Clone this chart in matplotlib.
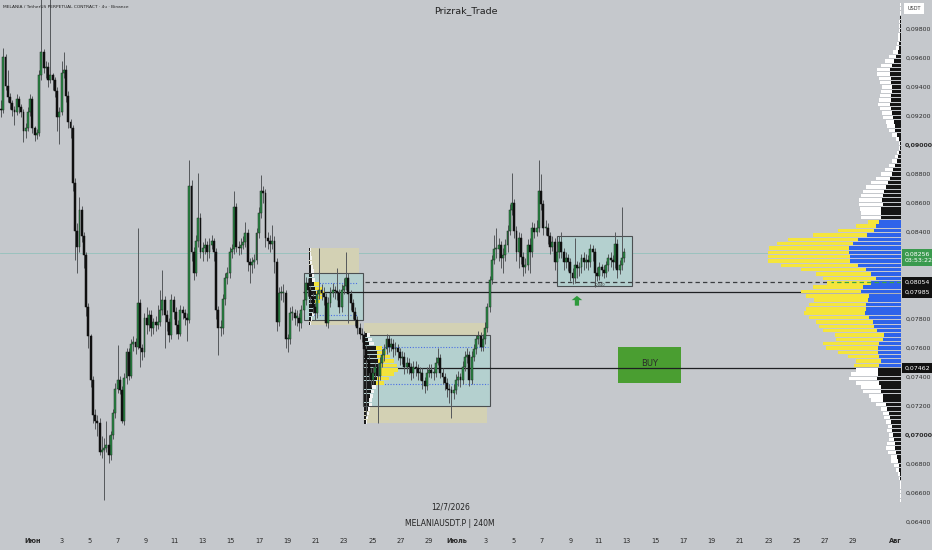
import matplotlib
matplotlib.use("Agg")
import matplotlib.pyplot as plt
import matplotlib.transforms as mtransforms
import numpy as np
from matplotlib.patches import Rectangle

# ---- 4h candles, MELANIAUSDT.P (prices in USDT) ----
first_open = 0.0925
closes = [
    .0924, .0961, .0941, .0933, .0929, .0924, .0923, .0932, .0926, .0923,
    .0910, .0912, .0923, .0932, .0912, .0907, .0908, .0948, .0964, .0953,
    .0954, .0945, .0948, .0945, .0937, .0919, .0923, .0950, .0952, .0934,
    .0916, .0912, .0874, .0841, .0830, .0855, .0837, .0824, .0788, .0768,
    .0738, .0714, .0710, .0708, .0688, .0690, .0691, .0693, .0686, .0700,
    .0715, .0732, .0738, .0731, .0710, .0739, .0757, .0741, .0763, .0764,
    .0761, .0791, .0760, .0757, .0781, .0776, .0783, .0774, .0778, .0776,
    .0778, .0786, .0793, .0783, .0778, .0769, .0793, .0785, .0776, .0770,
    .0786, .0784, .0781, .0779, .0872, .0826, .0812, .0834, .0850, .0826,
    .0829, .0831, .0826, .0831, .0834, .0826, .0786, .0774, .0774, .0794,
    .0808, .0812, .0826, .0828, .0857, .0830, .0829, .0831, .0833, .0839,
    .0819, .0817, .0819, .0821, .0839, .0853, .0868, .0867, .0836, .0834,
    .0832, .0834, .0819, .0778, .0798, .0798, .0798, .0766, .0766, .0784,
    .0784, .0781, .0781, .0777, .0786, .0793, .0805, .0800, .0795, .0788,
    .0784, .0797, .0800, .0798, .0795, .0777, .0791, .0798, .0800, .0799,
    .0798, .0788, .0800, .0803, .0808, .0797, .0791, .0785, .0779, .0774,
    .0770, .0769, .0759, .0752, .0743, .0738, .0743, .0747, .0741, .0750,
    .0755, .0759, .0766, .0761, .0763, .0759, .0760, .0757, .0753, .0754,
    .0747, .0750, .0747, .0743, .0747, .0746, .0743, .0743, .0737, .0734,
    .0743, .0745, .0743, .0743, .0750, .0753, .0743, .0740, .0736, .0732,
    .0731, .0729, .0731, .0738, .0740, .0738, .0747, .0754, .0755, .0738,
    .0754, .0759, .0766, .0768, .0761, .0766, .0774, .0788, .0807, .0821,
    .0828, .0828, .0831, .0822, .0824, .0831, .0841, .0855, .0860, .0841,
    .0826, .0836, .0823, .0816, .0817, .0831, .0826, .0843, .0840, .0843,
    .0868, .0859, .0843, .0843, .0837, .0830, .0833, .0819, .0826, .0833,
    .0826, .0819, .0822, .0819, .0812, .0808, .0817, .0815, .0816, .0822,
    .0819, .0821, .0819, .0828, .0826, .0812, .0810, .0816, .0814, .0812,
    .0817, .0822, .0821, .0819, .0832, .0814, .0817, .0822, .0826,
]
highs = [
    .0931, .0967, .0963, .0952, .0936, .0931, .0927, .0935, .0934, .0928,
    .0925, .0915, .0926, .0935, .0934, .0913, .0911, .0952, .1005, .0966,
    .0958, .0957, .1005, .0950, .0947, .0940, .0926, .0958, .0964, .0955,
    .0937, .0918, .0914, .0877, .0846, .0864, .0858, .0840, .0826, .0791,
    .0770, .0741, .0718, .0714, .0712, .0699, .0698, .0710, .0700, .0703,
    .0718, .0736, .0762, .0741, .0734, .0743, .0760, .0760, .0766, .0768,
    .0767, .0843, .0794, .0763, .0784, .0788, .0786, .0786, .0781, .0782,
    .0790, .0800, .0814, .0796, .0786, .0781, .0797, .0796, .0788, .0779,
    .0790, .0789, .0787, .0784, .0890, .0876, .0830, .0838, .0881, .0853,
    .0833, .0836, .0834, .0836, .0838, .0836, .0829, .0789, .0779, .0797,
    .0812, .0816, .0830, .0832, .0868, .0860, .0834, .0836, .0837, .0847,
    .0842, .0822, .0823, .0825, .0843, .0857, .0879, .0872, .0870, .0840,
    .0838, .0845, .0837, .0822, .0802, .0803, .0804, .0800, .0770, .0788,
    .0789, .0787, .0786, .0784, .0790, .0797, .0809, .0808, .0803, .0798,
    .0791, .0800, .0829, .0804, .0802, .0798, .0795, .0802, .0805, .0803,
    .0815, .0801, .0804, .0808, .0826, .0812, .0800, .0794, .0788, .0782,
    .0777, .0774, .0772, .0762, .0755, .0746, .0747, .0750, .0750, .0754,
    .0759, .0763, .0770, .0769, .0767, .0766, .0764, .0763, .0760, .0758,
    .0757, .0754, .0753, .0750, .0751, .0751, .0749, .0747, .0746, .0740,
    .0747, .0749, .0749, .0747, .0754, .0760, .0756, .0746, .0743, .0739,
    .0735, .0734, .0735, .0742, .0744, .0743, .0751, .0758, .0760, .0758,
    .0758, .0763, .0769, .0772, .0771, .0770, .0778, .0791, .0810, .0824,
    .0838, .0843, .0836, .0834, .0829, .0835, .0845, .0859, .0881, .0863,
    .0844, .0840, .0839, .0826, .0822, .0835, .0836, .0847, .0846, .0848,
    .0890, .0880, .0862, .0848, .0846, .0840, .0837, .0836, .0830, .0837,
    .0840, .0829, .0826, .0825, .0822, .0815, .0836, .0820, .0819, .0825,
    .0826, .0825, .0824, .0832, .0831, .0829, .0816, .0819, .0818, .0817,
    .0820, .0825, .0826, .0824, .0840, .0835, .0821, .0857, .0829,
]
lows = [
    .0919, .0922, .0938, .0930, .0925, .0920, .0914, .0921, .0922, .0919,
    .0902, .0905, .0910, .0920, .0908, .0903, .0904, .0906, .0945, .0950,
    .0946, .0940, .0943, .0938, .0933, .0910, .0901, .0921, .0946, .0930,
    .0912, .0905, .0868, .0821, .0812, .0826, .0833, .0815, .0782, .0760,
    .0733, .0708, .0704, .0699, .0686, .0684, .0655, .0688, .0681, .0683,
    .0697, .0712, .0729, .0728, .0708, .0707, .0735, .0738, .0739, .0758,
    .0756, .0759, .0747, .0752, .0754, .0770, .0772, .0768, .0770, .0772,
    .0773, .0775, .0783, .0760, .0772, .0764, .0766, .0780, .0770, .0766,
    .0768, .0780, .0776, .0765, .0777, .0820, .0807, .0810, .0830, .0822,
    .0820, .0825, .0820, .0822, .0828, .0820, .0780, .0755, .0768, .0770,
    .0790, .0804, .0808, .0822, .0825, .0826, .0824, .0825, .0828, .0830,
    .0813, .0805, .0812, .0815, .0818, .0836, .0850, .0860, .0830, .0828,
    .0826, .0828, .0812, .0772, .0775, .0793, .0792, .0760, .0757, .0763,
    .0779, .0776, .0775, .0772, .0774, .0783, .0790, .0796, .0791, .0784,
    .0779, .0781, .0794, .0793, .0790, .0775, .0774, .0788, .0795, .0794,
    .0793, .0784, .0785, .0797, .0800, .0777, .0786, .0780, .0775, .0770,
    .0766, .0764, .0755, .0713, .0738, .0733, .0735, .0740, .0708, .0738,
    .0747, .0751, .0756, .0757, .0758, .0754, .0755, .0752, .0748, .0749,
    .0742, .0743, .0742, .0738, .0739, .0741, .0738, .0738, .0732, .0729,
    .0731, .0740, .0739, .0738, .0740, .0748, .0739, .0735, .0731, .0726,
    .0722, .0712, .0725, .0728, .0734, .0733, .0735, .0744, .0750, .0734,
    .0735, .0751, .0756, .0763, .0758, .0758, .0763, .0771, .0785, .0804,
    .0818, .0822, .0820, .0815, .0812, .0820, .0826, .0838, .0852, .0836,
    .0820, .0815, .0818, .0810, .0812, .0814, .0812, .0823, .0836, .0837,
    .0840, .0855, .0838, .0838, .0832, .0825, .0827, .0814, .0815, .0822,
    .0822, .0814, .0815, .0813, .0806, .0804, .0805, .0808, .0810, .0812,
    .0814, .0815, .0814, .0816, .0820, .0802, .0806, .0807, .0810, .0808,
    .0809, .0813, .0816, .0814, .0815, .0808, .0811, .0814, .0819,
]
bar_start = -2.26   # days after 1 June of the first candle
bar_step = 0.1585   # candle spacing on the time scale

# ---- visible range volume profile (top bin 0.0997, step 0.0003) ----
vp_top, vp_step = 0.0997, 0.0003
vp_total = [
    1, 1, 1.5, 1.5, 2, 2, 2.5, 3, 3, 4,
    5, 8, 12, 16, 20, 24, 24, 22, 21, 19,
    20, 21, 22, 23, 21, 19, 18, 15, 14, 12,
    9, 5, 2, 2, 4, 6, 9, 12, 16, 20,
    25, 30, 35, 38, 40, 42, 42, 41, 40, 40,
    33, 45, 63, 88, 113, 124, 132, 133, 133, 133,
    120, 100, 85, 78, 74, 88, 100, 95, 87, 92,
    95, 97, 92, 85, 82, 78, 66, 65, 78, 75,
    63, 53, 45, 47, 45, 50, 52, 45, 40, 38,
    32, 30, 25, 20, 18, 17, 15, 13, 14, 12,
    12, 14, 15, 13, 10, 10, 7, 5, 3, 2,
    1, 1, 1, 1, 1,
]
vp_down = [
    .5, .5, .5, 1, 1, 1, 1, 1.5, 1.5, 2,
    2, 3, 5, 7, 9, 11, 11, 10, 10, 9,
    9, 10, 10, 11, 10, 9, 8, 7, 6, 6,
    4, 2, 1, 1, 2, 3, 4, 6, 8, 9,
    11, 13, 15, 17, 18, 19, 18, 20, 20, 20,
    22, 25, 27, 34, 43, 48, 52, 52, 51, 51,
    43, 35, 30, 25, 30, 38, 40, 32, 33, 35,
    35, 36, 32, 28, 27, 24, 17, 18, 22, 23,
    23, 22, 20, 22, 23, 23, 24, 22, 20, 20,
    18, 18, 15, 14, 12, 11, 10, 9, 9, 8,
    7, 6, 6, 5, 4, 3, 2, 2, 1, 1,
    .5, .5, .5, .5, .5,
]
va_high, va_low = 0.0848, 0.0747

# ---- session profiles inside the two ranges ----
sp1_start, sp1_top = 19.52, 0.0828
sp1_total = [2, 2, 3, 3, 4, 5, 5, 6, 10, 14, 16, 13, 11, 9, 7, 5, 3, 2]
sp1_down = [1, 1, 1, 1.5, 2, 2, 3, 3, 5, 6, 7, 7, 6, 6, 5, 3, 2, 1]
sp1_va = (0.0784, 0.0806)
sp2_start, sp2_top = 23.41, 0.0769
sp2_total = [6, 8, 10, 18, 22, 26, 30, 33, 34, 30, 25, 20, 12, 10, 9, 8, 8, 6, 5, 4, 3]
sp2_down = [3, 4, 5, 12, 13, 13, 14, 14, 14, 13, 13, 12, 8, 7, 6, 5, 5, 4, 3, 2, 2]
sp2_va = (0.0735, 0.0762)
sp_scale = 1 / 14.14   # volume unit -> days

# ---- drawings ----
tan_boxes = [(19.52, 23.06, 0.0776, 0.0829), (23.41, 32.11, 0.0708, 0.0777)]
range_boxes = [(19.17, 23.34, 0.0779, 0.0812), (23.34, 32.32, 0.0720, 0.0769),
               (37.06, 42.36, 0.0803, 0.0837)]
buy_box = (41.37, 45.83, 0.0736, 0.0761)
va_lines = [(19.66, 22.90, 0.0805), (19.66, 22.90, 0.0783),
            (23.48, 32.18, 0.0761), (23.48, 32.18, 0.0735)]
last_price = 0.08256
dashed_level = (23.48, 0.08054)
solid_levels = [(19.10, 0.07985), (23.34, 0.07462)]
arrow_day, arrow_from, arrow_to = 38.47, 0.07892, 0.0796

day_ticks = [0] + list(range(2, 30, 2)) + [30] + list(range(32, 60, 2)) + [61]
day_labels = (["Июн"] + [str(d) for d in range(3, 30, 2)] + ["Июль"]
              + [str(d) for d in range(3, 30, 2)] + ["Авг"])
# 0.080 and 0.082 sit under the price tags on the scale
price_ticks = [0.064 + 0.002 * k for k in range(18) if k not in (8, 9)]
price_tags = [(0.08054, "0,08054"), (0.07985, "0,07985"), (0.07462, "0,07462")]

bg = "#c5c8cc"
fig = plt.figure(figsize=(9.32, 5.5), dpi=100, facecolor=bg)
ax = fig.add_axes([0, 20 / 550, 901 / 932, 530 / 550], facecolor=bg)
x_left, x_right = -2.334, 61.39
ax.set_xlim(x_left, x_right)
ax.set_ylim(0.06345, 0.1)
for s in ax.spines.values():
    s.set_visible(False)

# zones
for x0, x1, p0, p1 in tan_boxes:
    ax.add_patch(Rectangle((x0, p0), x1 - x0, p1 - p0, facecolor="#d3d1b4",
                           edgecolor="none", zorder=1))
for x0, x1, p0, p1 in range_boxes:
    ax.add_patch(Rectangle((x0, p0), x1 - x0, p1 - p0, facecolor="#b4d0cf",
                           edgecolor="#4c5052", lw=0.8, zorder=1.5))
x0, x1, p0, p1 = buy_box
ax.add_patch(Rectangle((x0, p0), x1 - x0, p1 - p0, facecolor="#4a9e31",
                       edgecolor="none", zorder=1.5))
ax.text((x0 + x1) / 2, (p0 + p1) / 2 + 0.0001, "BUY", ha="center", va="center",
        fontsize=6, color="#2a2a2a", zorder=6)

# levels
ax.axhline(last_price, color="#93c2bc", lw=0.6, zorder=0.8)
ax.hlines(dashed_level[1], dashed_level[0], x_right, colors="#3a3d40", lw=0.9,
          linestyles=(0, (3.5, 2.5)), zorder=2)
for xs, p in solid_levels:
    ax.hlines(p, xs, x_right, colors="#1e2022", lw=0.9, zorder=2)
for xa, xb, p in va_lines:
    ax.hlines(p, xa, xb, colors="#4a6fe3", lw=0.8, linestyles=(0, (1, 1.5)), zorder=3)


def session_profile(start, top, total, down, va):
    prices = top - vp_step * np.arange(len(total))
    inside = (prices >= va[0]) & (prices <= va[1])
    ax.barh(prices, np.array(total) * sp_scale, left=start, height=vp_step * 0.8,
            color=np.where(inside, "#f2e33a", "#f4f4f4"), zorder=3)
    ax.barh(prices, np.array(down) * sp_scale, left=start, height=vp_step * 0.8,
            color="#1a1a1a", zorder=3.1)


session_profile(sp1_start, sp1_top, sp1_total, sp1_down, sp1_va)
session_profile(sp2_start, sp2_top, sp2_total, sp2_down, sp2_va)

# candles
o = np.array([first_open] + closes[:-1])
c = np.array(closes)
h = np.array(highs)
l = np.array(lows)
t = bar_start + bar_step * np.arange(len(c))
up = c >= o
ax.vlines(t, l, h, colors="#55585b", lw=0.7, zorder=4)
body_lo = np.minimum(o, c)
body_h = np.maximum(np.abs(c - o), 0.00008)
ax.bar(t[up], body_h[up], bottom=body_lo[up], width=bar_step * 0.85,
       color="#2a8c45", edgecolor="#1c2a20", lw=0.35, zorder=5)
ax.bar(t[~up], body_h[~up], bottom=body_lo[~up], width=bar_step * 0.85,
       color="#101010", edgecolor="#101010", lw=0.35, zorder=5)

# green arrow under the upper range
ax.arrow(arrow_day, arrow_from, 0, arrow_to - arrow_from - 0.0003, width=0.3,
         head_width=0.75, head_length=0.0003, length_includes_head=False,
         color="#2e9a3c", lw=0, zorder=6)
ax.text(40.1, 0.08035, "30040", fontsize=2.6, color="#333333", ha="center",
        va="center", zorder=6)

# axes ticks
ax.set_xticks(day_ticks)
ax.set_xticklabels(day_labels)
ax.tick_params(axis="x", length=0, pad=6, labelsize=4.8, labelcolor="#2a2a2a")
for lab in ax.get_xticklabels():
    if not lab.get_text().isdigit():
        lab.set_fontweight("bold")
ax.yaxis.tick_right()
ax.set_yticks(price_ticks)
ax.set_yticklabels([f"{p:.5f}".replace(".", ",") for p in price_ticks])
ax.tick_params(axis="y", length=0, pad=3, labelsize=4.5, labelcolor="#2a2a2a")
for lab, p in zip(ax.get_yticklabels(), price_ticks):
    if abs(p - 0.09) < 1e-6 or abs(p - 0.07) < 1e-6:
        lab.set_fontweight("bold")

# volume profile on the right
axp = ax.twiny()
axp.set_xlim(901, 0)   # volume units drawn leftwards from the right edge
axp.set_xticks([])
axp.tick_params(top=False, labeltop=False)
for s in axp.spines.values():
    s.set_visible(False)
vp_prices = vp_top - vp_step * np.arange(len(vp_total))
in_va = (vp_prices >= va_low) & (vp_prices <= va_high)
axp.barh(vp_prices, vp_total, height=vp_step * 0.8,
         color=np.where(in_va, "#f5e53c", "#ffffff"), zorder=2)
axp.barh(vp_prices, vp_down, height=vp_step * 0.8,
         color=np.where(in_va, "#2f63ea", "#151515"), zorder=2.1)
axp.hlines(dashed_level[1], 0, 70, colors="#3aa640", lw=0.9,
           linestyles=(0, (3.5, 2.5)), zorder=3)

# price tags on the scale
tr = mtransforms.blended_transform_factory(ax.transAxes, ax.transData)
tag_x = 1 + 4 / 901
for p, txt in price_tags:
    ax.text(tag_x, p, txt, transform=tr, fontsize=4.5, color="white", va="center",
            ha="left", zorder=10, clip_on=False,
            bbox=dict(boxstyle="square,pad=0.45", fc="#111111", ec="none"))
ax.text(tag_x, last_price - 0.00031, "0,08256\n03:53:22", transform=tr, fontsize=4.5,
        color="white", va="center", ha="left", zorder=10, clip_on=False,
        linespacing=1.5,
        bbox=dict(boxstyle="square,pad=0.45", fc="#3a9a4e", ec="none"))

fig.text(914 / 932, 1 - 8 / 550, "USDT", fontsize=3.6, color="#333333", ha="center",
         va="center", bbox=dict(boxstyle="square,pad=0.6", fc="white", ec="none"))
fig.text(3 / 932, 1 - 7 / 550, "MELANIA / TetherUS PERPETUAL CONTRACT · 4ч · Binance",
         fontsize=3.2, color="#222222", va="center")
fig.text(466 / 932, 1 - 11 / 550, "Prizrak_Trade", fontsize=6.8, color="#222222",
         ha="center", va="center")
fig.text(451 / 932, 1 - 507 / 550, "12/7/2026", fontsize=5.5, color="#222222",
         ha="center", va="center")
fig.text(450 / 932, 1 - 523 / 550, "MELANIAUSDT.P | 240M", fontsize=5.5,
         color="#222222", ha="center", va="center")

fig.savefig("out.png", dpi=100, facecolor=bg)
